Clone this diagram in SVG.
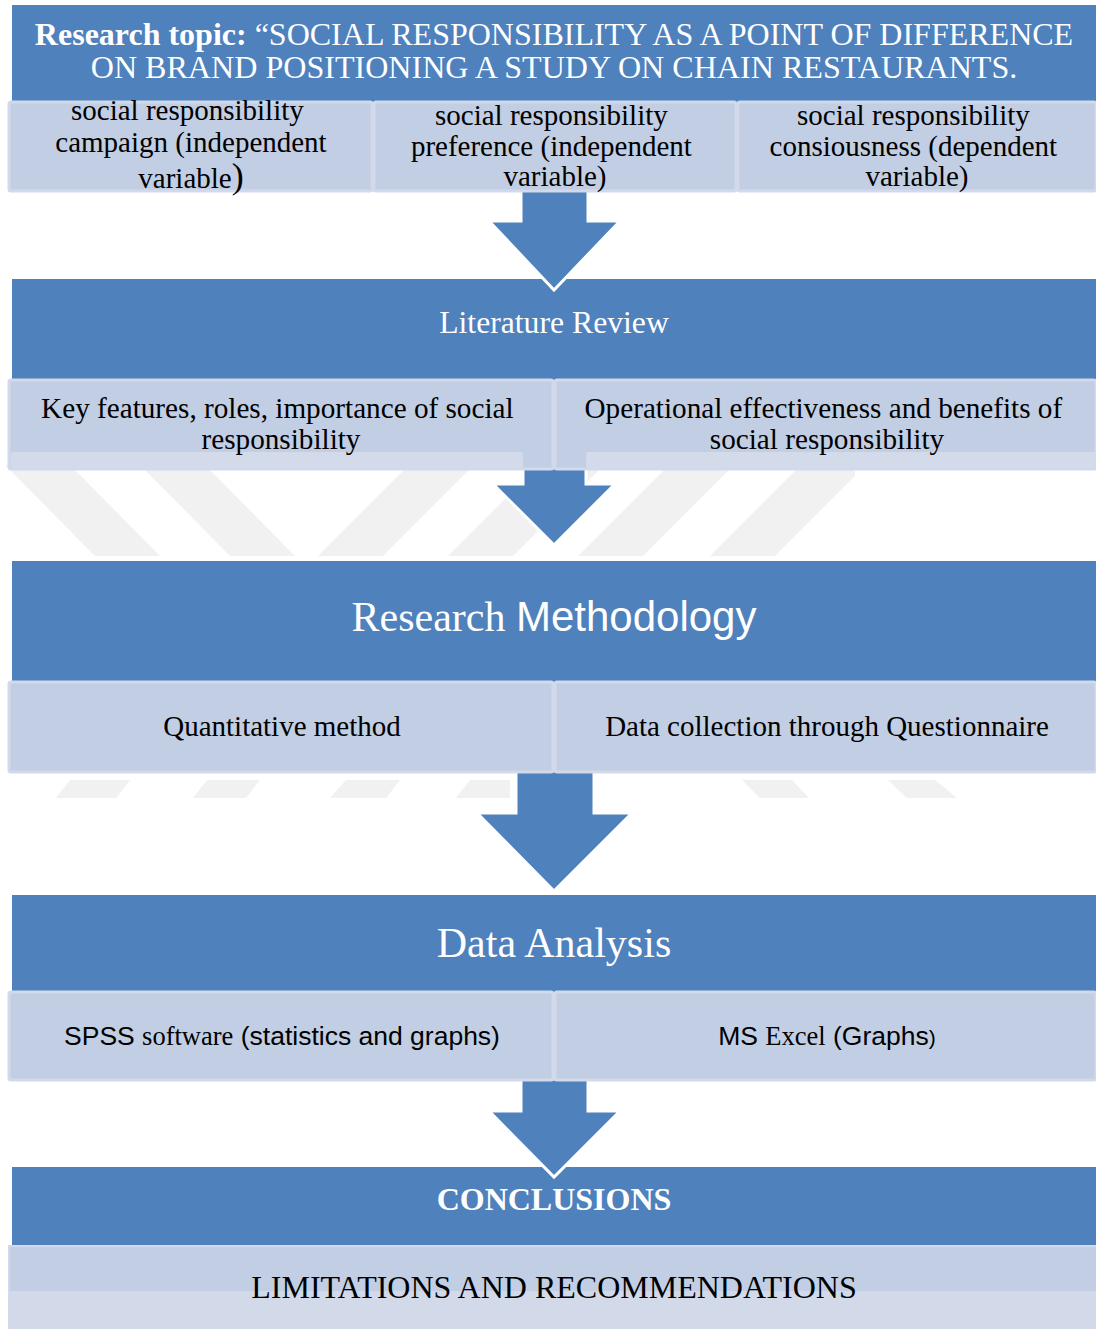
<svg xmlns="http://www.w3.org/2000/svg" width="1096" height="1329" viewBox="0 0 1096 1329">
  <style>
    .bar { fill: #4F81BD; }
    .cell { fill: #C2CEE3; stroke: #D1D9EA; stroke-width: 3; }
    .strip { fill: #D3DBEA; }
    .arrow { fill: #4F81BD; stroke: #FFFFFF; stroke-width: 3; stroke-linejoin: miter; }
    .mark { fill: #F1F1F1; }
    .serif { font-family: "Liberation Serif", "Times New Roman", serif; }
    .sans { font-family: "Liberation Sans", Arial, sans-serif; }
    .w { fill: #FFFFFF; }
    .k { fill: #000000; }
  </style>

  <rect width="1096" height="1329" fill="#FFFFFF"/>

  <!-- faint background stripes -->
  <g id="watermark">
    <polygon class="mark" points="5,465 70,465 160,556 95,556"/>
    <polygon class="mark" points="140,465 205,465 295,556 230,556"/>
    <polygon class="mark" points="318,556 383,556 474,465 409,465"/>
    <polygon class="mark" points="448,556 513,556 604,465 539,465"/>
    <polygon class="mark" points="578,556 643,556 734,465 669,465"/>
    <polygon class="mark" points="710,556 775,556 855,476 855,465 801,465"/>
    <polygon class="mark" points="56,798 116,798 130,780 70,780"/>
    <polygon class="mark" points="193,798 246,798 260,780 207,780"/>
    <polygon class="mark" points="330,798 386,798 400,780 346,780"/>
    <polygon class="mark" points="456,798 510,798 510,780 470,780"/>
    <polygon class="mark" points="742,780 792,780 809,798 760,798"/>
    <polygon class="mark" points="888,780 935,780 957,798 907,798"/>
  </g>

  <!-- section header bars -->
  <g id="topic">
    <rect class="bar" x="12" y="5" width="1084" height="97"/>
    <text class="serif w" x="554" y="45" font-size="32" text-anchor="middle"><tspan font-weight="bold">Research topic: </tspan>“SOCIAL RESPONSIBILITY AS A POINT OF DIFFERENCE</text>
    <text class="serif w" x="554" y="78" font-size="32.1" text-anchor="middle">ON BRAND POSITIONING A STUDY ON CHAIN RESTAURANTS.</text>
  </g>

  <g id="literature-review">
    <rect class="bar" x="12" y="279" width="1084" height="101"/>
    <text class="serif w" x="554" y="333" font-size="31.7" text-anchor="middle">Literature Review</text>
  </g>

  <g id="research-methodology">
    <rect class="bar" x="12" y="561" width="1084" height="121"/>
    <text x="554" y="631" font-size="42" text-anchor="middle" class="w"><tspan class="serif">Research </tspan><tspan class="sans">Methodology</tspan></text>
  </g>

  <g id="data-analysis">
    <rect class="bar" x="12" y="895" width="1084" height="97"/>
    <text class="serif w" x="554" y="957" font-size="42" text-anchor="middle">Data Analysis</text>
  </g>

  <g id="conclusions">
    <rect class="bar" x="12" y="1167" width="1084" height="78"/>
    <text class="serif w" x="554" y="1210" font-size="32" font-weight="bold" text-anchor="middle">CONCLUSIONS</text>
  </g>

  <!-- block arrows between stages -->
  <g id="connectors">
    <polygon class="arrow" points="521,189 588,189 588,221 620,221 554,290 489,221 521,221"/>
    <polygon class="arrow" points="523,466 586,466 586,484 615,484 554,545 493,484 523,484"/>
    <polygon class="arrow" points="516,770 594,770 594,813 632,813 554,891 477,813 516,813"/>
    <polygon class="arrow" points="521,1079 588,1079 588,1111 620,1111 554,1177 489,1111 521,1111"/>
  </g>

  <!-- variables -->
  <g id="campaign">
    <rect class="cell" x="9" y="102" width="363" height="89" rx="2"/>
    <text class="serif k" font-size="29" text-anchor="middle">
      <tspan x="191" y="120">social responsibility</tspan>
      <tspan x="191" y="152">campaign (independent</tspan>
    </text>
    <text class="serif k" x="191" y="188" font-size="29" text-anchor="middle">variable<tspan font-size="36">)</tspan></text>
  </g>

  <g id="preference">
    <rect class="cell" x="374" y="102" width="362" height="89" rx="2"/>
    <text class="serif k" font-size="29" text-anchor="middle">
      <tspan x="555" y="125">social responsibility</tspan>
      <tspan x="555" y="156">preference (independent</tspan>
      <tspan x="555" y="186">variable)</tspan>
    </text>
  </g>

  <g id="consciousness">
    <rect class="cell" x="738" y="102" width="358" height="89" rx="2"/>
    <text class="serif k" font-size="29" text-anchor="middle">
      <tspan x="917" y="125">social responsibility</tspan>
      <tspan x="917" y="156">consiousness (dependent</tspan>
      <tspan x="917" y="186">variable)</tspan>
    </text>
  </g>

  <!-- literature topics -->
  <g id="key-features">
    <rect class="cell" x="9" y="380" width="544" height="89" rx="2"/>
    <rect class="strip" x="11" y="452" width="512" height="16" rx="2"/>
    <text class="serif k" font-size="29.2" text-anchor="middle">
      <tspan x="281" y="418">Key features, roles, importance of social</tspan>
      <tspan x="281" y="449">responsibility</tspan>
    </text>
  </g>

  <g id="effectiveness">
    <rect class="cell" x="555" y="380" width="541" height="89" rx="2"/>
    <rect class="strip" x="586" y="452" width="510" height="16" rx="2"/>
    <text class="serif k" font-size="29.2" text-anchor="middle">
      <tspan x="827" y="418">Operational effectiveness and benefits of</tspan>
      <tspan x="827" y="449">social responsibility</tspan>
    </text>
  </g>

  <!-- methodology -->
  <g id="quantitative">
    <rect class="cell" x="9" y="682" width="544" height="90" rx="2"/>
    <text class="serif k" x="282" y="736" font-size="29" text-anchor="middle">Quantitative method</text>
  </g>

  <g id="questionnaire">
    <rect class="cell" x="555" y="682" width="541" height="90" rx="2"/>
    <text class="serif k" x="827" y="736" font-size="29" text-anchor="middle">Data collection through Questionnaire</text>
  </g>

  <!-- analysis tools -->
  <g id="spss">
    <rect class="cell" x="9" y="992" width="544" height="88" rx="2"/>
    <text class="k" x="282" y="1045" font-size="26.5" text-anchor="middle"><tspan class="sans">SPSS </tspan><tspan class="serif">software</tspan><tspan class="sans"> (statistics and graphs)</tspan></text>
  </g>

  <g id="excel">
    <rect class="cell" x="555" y="992" width="541" height="88" rx="2"/>
    <text class="k" x="827" y="1045" font-size="26.5" text-anchor="middle"><tspan class="sans">MS </tspan><tspan class="serif">Excel</tspan><tspan class="sans"> (Graphs</tspan><tspan class="sans" font-size="21">)</tspan></text>
  </g>

  <!-- closing chapter -->
  <g id="limitations">
    <rect x="8" y="1245" width="1088" height="84" fill="#D2DAEA"/>
    <rect x="10" y="1247" width="1086" height="44" fill="#C2CEE3"/>
    <text class="serif k" x="554" y="1298" font-size="32" text-anchor="middle">LIMITATIONS AND RECOMMENDATIONS</text>
  </g>
</svg>
